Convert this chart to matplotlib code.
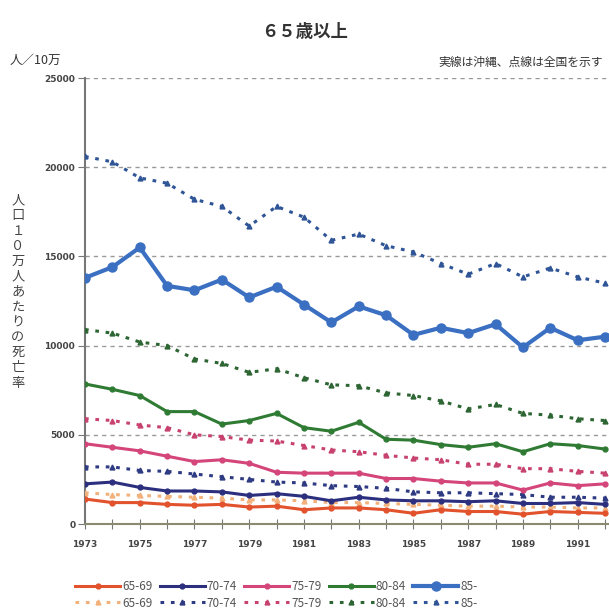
import numpy as np
import matplotlib
matplotlib.use("Agg")
from matplotlib import pyplot as plt

plt.rcParams['font.family'] = ['Noto Sans CJK JP', 'DejaVu Sans']

years = list(range(1973, 1993))
age_groups = ["65-69", "70-74", "75-79", "80-84", "85-"]

# Okinawa (solid lines)
oki_65_69 = [1400, 1200, 1200, 1100, 1050, 1100, 950, 1000, 800, 900,
             900, 800, 600, 800, 700, 700, 550, 700, 650, 600]
oki_70_74 = [2250, 2350, 2050, 1850, 1850, 1800, 1600, 1700, 1550, 1300,
             1500, 1350, 1300, 1300, 1250, 1300, 1150, 1150, 1200, 1100]
oki_75_79 = [4500, 4300, 4100, 3800, 3500, 3600, 3400, 2900, 2850, 2850,
             2850, 2550, 2550, 2400, 2300, 2300, 1900, 2300, 2150, 2250]
oki_80_84 = [7850, 7550, 7200, 6300, 6300, 5600, 5800, 6200, 5400, 5200,
             5700, 4750, 4700, 4450, 4300, 4500, 4050, 4500, 4400, 4200]
oki_85 = [13800, 14400, 15500, 13350, 13100, 13700, 12700, 13300, 12300, 11300,
          12200, 11700, 10600, 11000, 10700, 11200, 9900, 11000, 10300, 10500]

# National (dotted lines)
nat_65_69 = [1750, 1650, 1600, 1550, 1500, 1450, 1350, 1350, 1300, 1200,
             1200, 1150, 1100, 1050, 1000, 1000, 950, 950, 900, 900]
nat_70_74 = [3200, 3200, 3000, 2950, 2800, 2650, 2500, 2350, 2300, 2150,
             2100, 2000, 1800, 1750, 1750, 1700, 1650, 1500, 1500, 1450]
nat_75_79 = [5900, 5800, 5550, 5400, 5000, 4900, 4700, 4650, 4400, 4150,
             4050, 3850, 3700, 3600, 3350, 3350, 3100, 3100, 2950, 2850]
nat_80_84 = [10900, 10700, 10200, 10000, 9250, 9000, 8500, 8700, 8200, 7800,
             7750, 7350, 7200, 6900, 6450, 6700, 6200, 6100, 5900, 5800]
nat_85 = [20600, 20300, 19400, 19100, 18200, 17800, 16700, 17800, 17200, 15900,
          16250, 15600, 15250, 14600, 14000, 14600, 13850, 14350, 13850, 13500]

oki = [oki_65_69, oki_70_74, oki_75_79, oki_80_84, oki_85]
nat = [nat_65_69, nat_70_74, nat_75_79, nat_80_84, nat_85]
solid_colors = ["#e2522c", "#2c2f7e", "#d4457a", "#2f7b34", "#3a6fc2"]
dot_colors = ["#f2b07a", "#2e3a82", "#c84270", "#2d6533", "#2f5597"]

fig = plt.figure(figsize=(6.09, 6.14), dpi=100)
ax = fig.add_axes([85 / 609, 90 / 614, 524 / 609, 446 / 614])

handles = []
for i in range(5):
    ms = 6.5 if i == 4 else 3.5
    lw = 3 if i == 4 else 2.2
    h1, = ax.plot(years, oki[i], color=solid_colors[i], lw=lw, marker="o",
                  ms=ms, label=age_groups[i], zorder=4)
    h2, = ax.plot(years, nat[i], color=dot_colors[i], lw=2.2, ls=(0, (1.2, 2.2)),
                  marker="^", ms=3.5, label=age_groups[i], zorder=3)
    handles += [h1, h2]

ax.set_xlim(1973, 1973 + 524 / 27.37)
ax.set_ylim(0, 25000)
ax.set_yticks(range(0, 25001, 5000))
ax.set_xticks(years)
ax.set_xticklabels([str(y) if (y - 1973) % 2 == 0 else "" for y in years])
for lab in ax.get_xticklabels() + ax.get_yticklabels():
    lab.set_family("DejaVu Sans")
    lab.set_fontsize(6.5)
    lab.set_fontweight("bold")
    lab.set_color("#444444")
ax.tick_params(axis="x", direction="inout", length=7, color="#777777", pad=8)
ax.tick_params(axis="y", direction="out", length=5, color="#777777", pad=2)

ax.yaxis.grid(True, color="#999999", ls=(0, (3, 3)), lw=1)
ax.set_axisbelow(True)
for s in ["top", "right"]:
    ax.spines[s].set_visible(False)
ax.spines["left"].set_color("#777777")
ax.spines["left"].set_linewidth(1.5)
ax.spines["bottom"].set_color("#8a8a70")
ax.spines["bottom"].set_linewidth(1.5)

fig.text(305 / 609, 1 - 32 / 614, "６５歳以上", ha="center", va="center",
         fontsize=12.5, fontweight="bold", color="#333333")
fig.text(10 / 609, 1 - 60 / 614, "人／10万", ha="left", va="center",
         fontsize=9, color="#333333")
fig.text(603 / 609, 1 - 62 / 614, "実線は沖縄、点線は全国を示す", ha="right", va="center",
         fontsize=8.5, color="#333333")
fig.text(18 / 609, 1 - 292 / 614, "\n".join("人口１０万人あたりの死亡率"),
         ha="center", va="center", fontsize=9.5, color="#444444", linespacing=1.22)

leg = fig.legend(handles=handles, ncol=5, loc="upper left",
                 bbox_to_anchor=(68 / 609, 1 - 573 / 614), frameon=False,
                 fontsize=8.5, handlelength=3.8, handletextpad=0.2,
                 columnspacing=0.6, labelspacing=0.3, borderaxespad=0.2)
for t in leg.get_texts():
    t.set_color("#555555")

fig.savefig("out.png", dpi=100)
